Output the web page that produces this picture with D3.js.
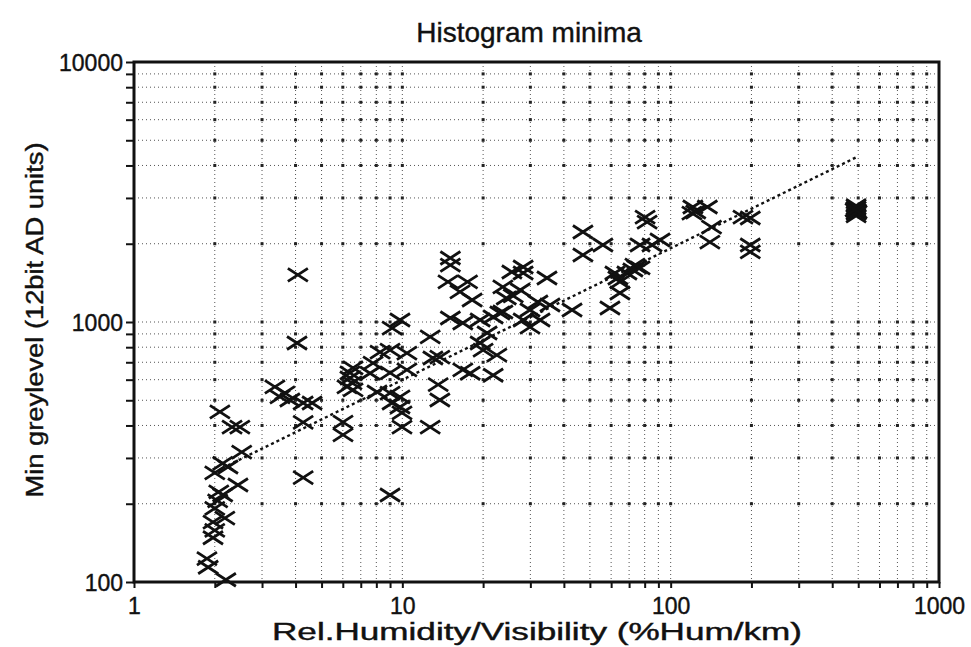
<!DOCTYPE html>
<html>
<head>
<meta charset="utf-8">
<script src="https://cdn.jsdelivr.net/npm/d3@7"></script>
<style>
  body { margin: 0; background: #fff; }
  text { font-family: "Liberation Sans", Arial, Helvetica, sans-serif; fill: #111; stroke: #111; stroke-width: 0.4px; }
</style>
</head>
<body>
<svg id="chart" width="971" height="647"></svg>
<script>
// values
const xMajor = [1, 10, 100, 1000]
const yMajor = [100, 1000, 10000]

// [Rel.Humidity/Visibility, Min greylevel]
const minima = [
  [2.52, 316], [2.14, 286], [2.00, 263], [2.44, 236], [2.07, 222], [2.14, 216],
  [2.00, 192], [2.18, 176], [1.97, 170], [2.00, 158], [1.97, 148], [1.87, 123],
  [1.89, 114], [2.2, 102], [2.09, 451], [2.32, 394], [2.48, 394], [2.24, 277],
  [2.05, 205], [4.27, 411], [4.27, 252], [6.01, 412], [6.01, 368], [9.0, 216],
  [4.08, 1517], [4.05, 830], [3.35, 563], [3.50, 515], [3.81, 501], [4.27, 488],
  [4.61, 488], [3.65, 534], [6.38, 637], [6.49, 583], [6.55, 548],
  [15.1, 1762], [15.1, 1655], [14.8, 1426], [17.5, 1426], [16.4, 1305], [18.2, 1215],
  [23.7, 1364], [24.4, 1237], [9.80, 1018], [9.16, 947], [15.1, 1036], [16.8, 991],
  [19.5, 1018], [21.8, 1045], [23.7, 1093], [12.7, 876], [8.26, 766], [9.0, 780],
  [10.4, 759], [7.78, 695], [13.0, 727], [13.8, 733], [19.5, 830], [20.0, 780],
  [22.5, 746], [6.55, 666], [6.38, 609], [7.58, 635], [9.0, 637], [10.4, 654],
  [16.8, 654], [17.9, 635], [21.8, 624], [13.6, 574], [8.05, 538], [9.0, 533],
  [9.8, 515], [9.16, 488], [9.8, 471], [9.97, 447], [13.8, 501], [6.22, 563],
  [9.97, 394], [12.7, 394],
  [47.1, 2219], [55.9, 1977], [47.1, 1810], [28.2, 1628], [28.2, 1543], [25.6, 1557],
  [34.6, 1477], [27.5, 1328], [25.9, 1260], [32.0, 1194], [35.5, 1162], [29.9, 1112],
  [23.1, 1083], [28.2, 1018], [32.6, 1018], [29.9, 956], [20.7, 907], [42.9, 1112],
  [59.4, 1132], [64.7, 1426], [64.7, 1293], [68.7, 1543], [72.3, 1585], [74.8, 1628],
  [63.6, 1477], [62.0, 1543], [73.6, 1655], [76.9, 1614],
  [80.3, 2533], [81.7, 2423], [76.9, 1977], [85.2, 1977], [91.3, 2067],
  [121, 2768], [137, 2768], [120, 2624], [124, 2650], [142, 2318], [140, 2030],
  [186, 2533], [198, 2511], [198, 1977], [198, 1860],
  [491, 2560], [491, 2620], [491, 2680], [491, 2740], [491, 2800], [495, 2650], [487, 2700]
]

// fitted power-law line (end points)
const fitLine = [[2.24, 281], [495, 4315]]

const svg = d3.select('#chart')
const margin = { top: 62, right: 32, bottom: 65, left: 134 }
const width = 971 - margin.left - margin.right
const height = 647 - margin.top - margin.bottom

const x = d3.scaleLog().domain([1, 1000]).range([0, width])
const y = d3.scaleLog().domain([100, 10000]).range([height, 0])

const g = svg.append('g').attr('transform', `translate(${margin.left},${margin.top})`)

// 1..9 of each decade, plus the top end
const minorX = d3.range(0, 3).flatMap(p => d3.range(1, 10).map(k => k * 10 ** p)).concat([1000])
const minorY = d3.range(2, 4).flatMap(p => d3.range(1, 10).map(k => k * 10 ** p)).concat([10000])
const gridX = minorX.filter(v => v > 1 && v < 1000)
const gridY = minorY.filter(v => v > 100 && v < 10000)

// dotted grid
g.append('g')
  .selectAll('line')
  .data(gridX)
  .join('line')
  .attr('x1', d => x(d)).attr('x2', d => x(d))
  .attr('y1', 0).attr('y2', height)
  .attr('stroke', '#555').attr('stroke-width', 1).attr('stroke-dasharray', '1,3')

g.append('g')
  .selectAll('line')
  .data(gridY)
  .join('line')
  .attr('y1', d => y(d)).attr('y2', d => y(d))
  .attr('x1', 0).attr('x2', width)
  .attr('stroke', '#555').attr('stroke-width', 1).attr('stroke-dasharray', '1,3')

// heavier dots where grid lines cross
g.append('g')
  .selectAll('rect')
  .data(gridX.flatMap(a => gridY.map(b => [a, b])))
  .join('rect')
  .attr('x', d => x(d[0]) - 1.5).attr('y', d => y(d[1]) - 1.5)
  .attr('width', 3).attr('height', 3)
  .attr('fill', '#222')

// fitted line
g.append('path')
  .datum(fitLine)
  .attr('d', d3.line().x(d => x(d[0])).y(d => y(d[1])))
  .attr('fill', 'none').attr('stroke', '#111')
  .attr('stroke-width', 2.4).attr('stroke-dasharray', '3,3')

// X markers
const mx = 10, my = 6.5
g.append('g')
  .selectAll('path')
  .data(minima)
  .join('path')
  .attr('transform', d => `translate(${x(d[0])},${y(d[1])})`)
  .attr('d', `M${-mx},${-my}L${mx},${my}M${-mx},${my}L${mx},${-my}`)
  .attr('stroke', '#111').attr('stroke-width', 2.8).attr('fill', 'none')

// axes
const fmt = d => (xMajor.includes(d) || yMajor.includes(d)) ? String(d) : ''

const xAxis = g.append('g')
  .attr('transform', `translate(0,${height})`)
  .call(d3.axisBottom(x).tickValues(minorX).tickFormat(fmt).tickSize(6).tickPadding(6))
const yAxis = g.append('g')
  .call(d3.axisLeft(y).tickValues(minorY).tickFormat(fmt).tickSize(8).tickPadding(3))

;[xAxis, yAxis].forEach(ax => {
  ax.select('.domain').remove()
  ax.selectAll('line').attr('stroke', '#111').attr('stroke-width', 2)
  ax.selectAll('text').attr('font-size', 23).attr('fill', '#111')
})
xAxis.selectAll('text').attr('dy', '0.85em')
yAxis.selectAll('text').attr('dy', '0.36em')

// frame
g.append('rect')
  .attr('width', width).attr('height', height)
  .attr('fill', 'none').attr('stroke', '#111').attr('stroke-width', 3)

// titles
svg.append('text')
  .attr('x', 529).attr('y', 42)
  .attr('text-anchor', 'middle').attr('font-size', 28)
  .text('Histogram minima')

svg.append('text')
  .attr('x', 537).attr('y', 640)
  .attr('text-anchor', 'middle').attr('font-size', 23)
  .attr('textLength', 530).attr('lengthAdjust', 'spacingAndGlyphs')
  .text('Rel.Humidity/Visibility (%Hum/km)')

svg.append('text')
  .attr('transform', 'translate(43,320) rotate(-90)')
  .attr('text-anchor', 'middle').attr('font-size', 23)
  .attr('textLength', 355).attr('lengthAdjust', 'spacingAndGlyphs')
  .text('Min greylevel (12bit AD units)')
</script>
</body>
</html>
